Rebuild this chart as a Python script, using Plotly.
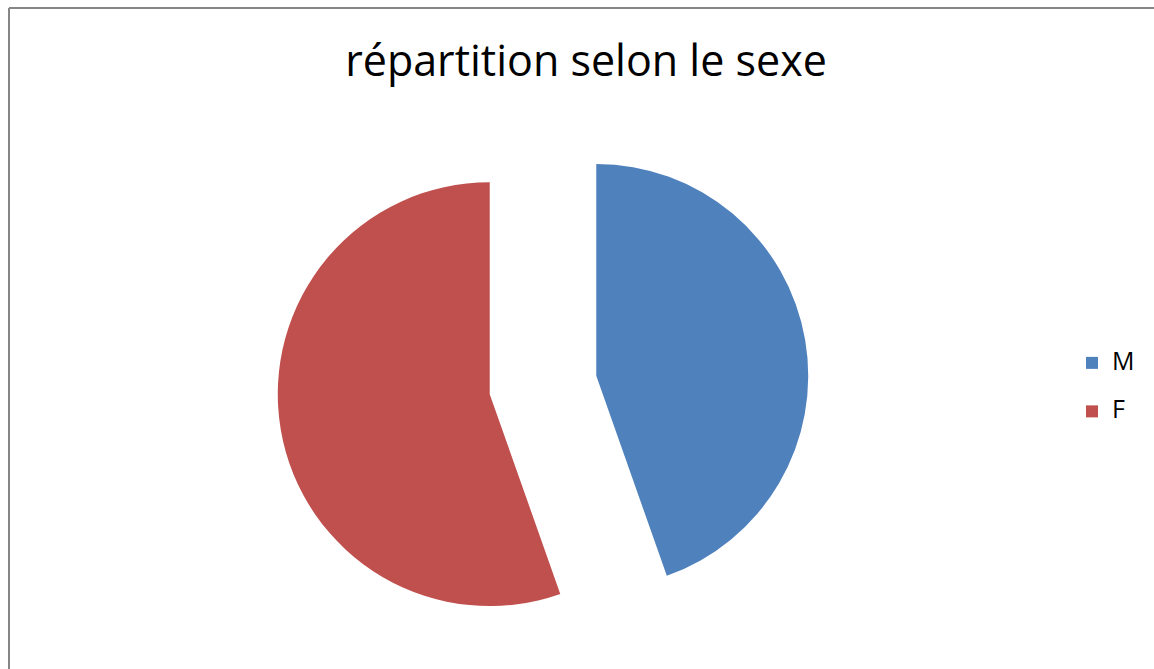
import plotly.graph_objects as go

# Data
categories = ["M", "F"]
values = [44.6, 55.4]
colors = ["#4F81BD", "#C0504D"]
title_text = "répartition selon le sexe"

W, H = 1154, 669

legend_text = [f"<span style='font-size:25px'>{c}</span><br>&nbsp;" for c in categories]

fig = go.Figure(
    go.Pie(
        labels=legend_text,
        values=values,
        sort=False,
        direction="clockwise",
        rotation=0,
        pull=[0.255, 0.255],
        marker=dict(colors=colors, line=dict(width=0)),
        textinfo="none",
        hoverinfo="skip",
        domain=dict(x=[277 / W, 809 / W], y=[(H - 651) / H, (H - 119) / H]),
    )
)

fig.update_layout(
    width=W,
    height=H,
    margin=dict(l=0, r=0, t=0, b=0),
    paper_bgcolor="white",
    plot_bgcolor="white",
    font=dict(family="Open Sans, sans-serif", color="#000000"),
    title=dict(
        text=title_text,
        x=586 / W,
        xanchor="center",
        xref="paper",
        y=1 - 61 / H,
        yanchor="middle",
        yref="container",
        font=dict(size=43, family="Open Sans, sans-serif", color="#000000", weight=500),
    ),
    legend=dict(
        x=1072 / W,
        xanchor="left",
        y=1 - 345 / H,
        yanchor="top",
        valign="top",
        font=dict(size=17.5, family="Open Sans, sans-serif", color="#000000"),
        bgcolor="rgba(0,0,0,0)",
        itemwidth=30,
    ),
    shapes=[
        dict(type="line", xref="paper", yref="paper",
             x0=9 / W, x1=9 / W, y0=-0.02, y1=1 - 8 / H,
             line=dict(color="#868686", width=2)),
        dict(type="line", xref="paper", yref="paper",
             x0=9 / W, x1=1.02, y0=1 - 8 / H, y1=1 - 8 / H,
             line=dict(color="#868686", width=2)),
    ],
)

fig.write_html(
    "out.html",
    config={"displayModeBar": False},
    post_script="document.body.style.margin='0';document.body.style.overflow='hidden';",
)
